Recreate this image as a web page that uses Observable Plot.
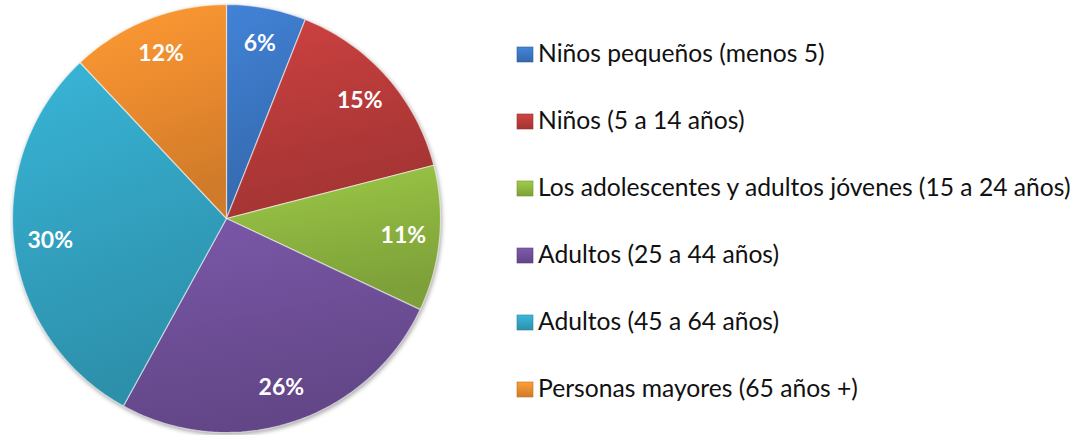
<!DOCTYPE html>
<html>
<head>
<meta charset="utf-8">
<script src="https://cdn.jsdelivr.net/npm/d3@7"></script>
<script src="https://cdn.jsdelivr.net/npm/@observablehq/plot@0.6"></script>
<style>
  html, body { margin: 0; padding: 0; background: #fff; }
  #wrap { position: relative; width: 1085px; height: 435px; display: flex; }
  #legend { font-family: Lato, "Open Sans", sans-serif; }
</style>
</head>
<body>
<div id="wrap"></div>
<script>
const categories = [
  "Niños pequeños (menos 5)",
  "Niños (5 a 14 años)",
  "Los adolescentes y adultos jóvenes (15 a 24 años)",
  "Adultos (25 a 44 años)",
  "Adultos (45 a 64 años)",
  "Personas mayores (65 años +)"
];
const values = [6, 15, 11, 26, 30, 12];
const labels = ["6%", "15%", "11%", "26%", "30%", "12%"];
const colors = ["#3A74BF", "#B53A39", "#8BB23F", "#6D4E96", "#32A0BE", "#E8892E"];

// build slice polygons (angle measured clockwise from 12 o'clock)
const total = d3.sum(values);
const slices = [];
const labelData = [];
let acc = 0;
values.forEach((v, i) => {
  const t0 = acc / total, t1 = (acc + v) / total;
  acc += v;
  const steps = Math.max(8, Math.ceil((t1 - t0) * 240));
  slices.push({i, x: 0, y: 0});
  for (let k = 0; k <= steps; k++) {
    const a = 2 * Math.PI * (t0 + (t1 - t0) * k / steps);
    slices.push({i, x: Math.sin(a), y: Math.cos(a)});
  }
  slices.push({i, x: 0, y: 0});
  const am = 2 * Math.PI * (t0 + t1) / 2;
  labelData.push({x: 0.83 * Math.sin(am), y: 0.83 * Math.cos(am), text: labels[i]});
});

const pie = Plot.plot({
  width: 470,
  height: 435,
  x: {domain: [-1, 1], range: [12, 440], axis: null},
  y: {domain: [-1, 1], range: [432, 4], axis: null},
  color: {type: "identity"},
  marks: [
    Plot.line(slices, {
      x: "x", y: "y", z: "i",
      fill: d => `url(#grad${d.i})`,
      stroke: "#ffffff", strokeOpacity: 0.55, strokeWidth: 1.2,
      curve: "linear-closed"
    }),
    Plot.text(labelData, {
      x: "x", y: "y", text: "text",
      fill: "white", fontWeight: "bold", fontSize: 23,
      fontFamily: "Lato, 'Open Sans', sans-serif"
    })
  ]
});

// gradients to mimic the shaded Office look
const svgSel = d3.select(pie);
const defs = svgSel.insert("defs", ":first-child");
colors.forEach((c, i) => {
  const g = defs.append("linearGradient").attr("id", `grad${i}`)
    .attr("x1", 0).attr("y1", 0).attr("x2", 0.25).attr("y2", 1);
  g.append("stop").attr("offset", "0%").attr("stop-color", d3.color(c).brighter(0.35));
  g.append("stop").attr("offset", "55%").attr("stop-color", c);
  g.append("stop").attr("offset", "100%").attr("stop-color", d3.color(c).darker(0.3));
});
const lineG = pie.querySelector('g[aria-label="line"]');
if (lineG) lineG.style.filter = "drop-shadow(1px 2px 2px rgba(0,0,0,0.35))";

document.getElementById("wrap").appendChild(pie);

// legend on the right
const legendFont = "Lato, 'Open Sans', sans-serif";
const ctx = document.createElement("canvas").getContext("2d");
let fs = 24;
ctx.font = `${fs}px ${legendFont}`;
const widest = d3.max(categories, c => ctx.measureText(c).width);
fs = Math.min(26, fs * 534 / widest);

const legend = d3.create("svg").attr("id", "legend")
  .attr("width", 615).attr("height", 435)
  .style("font-family", legendFont);
const lgDefs = legend.append("defs");
colors.forEach((c, i) => {
  const g = lgDefs.append("linearGradient").attr("id", `lg${i}`)
    .attr("x1", 0).attr("y1", 0).attr("x2", 0).attr("y2", 1);
  g.append("stop").attr("offset", "0%").attr("stop-color", d3.color(c).brighter(0.4));
  g.append("stop").attr("offset", "100%").attr("stop-color", d3.color(c).darker(0.3));
});
categories.forEach((c, i) => {
  const base = 62 + i * 67;
  legend.append("rect").attr("x", 517 - 470).attr("y", base - 15)
    .attr("width", 16).attr("height", 15).attr("fill", `url(#lg${i})`)
    .attr("stroke", d3.color(colors[i]).darker(0.6)).attr("stroke-width", 0.6);
  legend.append("text").attr("x", 538 - 470).attr("y", base)
    .attr("font-size", fs).attr("fill", "#111").text(c);
});
document.getElementById("wrap").appendChild(legend.node());
</script>
</body>
</html>
